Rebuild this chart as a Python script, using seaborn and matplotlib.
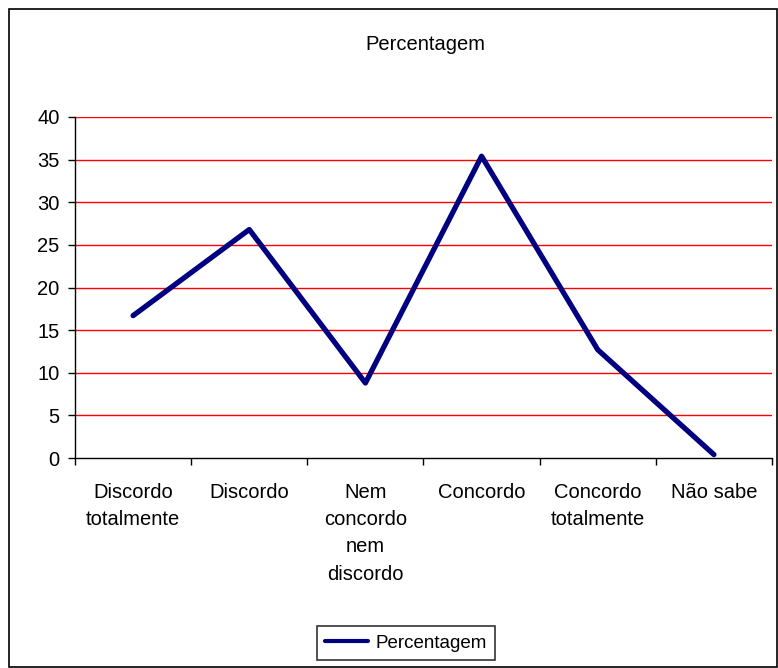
import matplotlib
matplotlib.use("Agg")
import numpy as np
import pandas as pd
from matplotlib import pyplot as plt
from matplotlib.patches import Rectangle
import seaborn as sns

categorias = ['Discordo\ntotalmente', 'Discordo', 'Nem\nconcordo\nnem\ndiscordo',
              'Concordo', 'Concordo\ntotalmente', 'Não sabe']
percentagem = [16.7, 26.8, 8.8, 35.4, 12.7, 0.4]
y_ticks = [0, 5, 10, 15, 20, 25, 30, 35, 40]

df = pd.DataFrame({'pos': np.arange(len(categorias)), 'Percentagem': percentagem})

sns.set_style('white')
plt.rcParams['font.family'] = ['Liberation Sans', 'DejaVu Sans']
plt.rcParams['text.color'] = 'black'
plt.rcParams['xtick.color'] = 'black'
plt.rcParams['ytick.color'] = 'black'

FS = 14.5

fig = plt.figure(figsize=(7.78, 6.68), dpi=100)
ax = fig.add_axes([75 / 778, 1 - 458 / 668, 697 / 778, 341 / 668])

sns.lineplot(data=df, x='pos', y='Percentagem', color='#000080', linewidth=3.8,
             label='Percentagem', ax=ax)

ax.set_xlim(-0.5, len(categorias) - 0.5)
ax.set_ylim(0, 40)
ax.set_yticks(y_ticks)
for y in y_ticks[1:]:
    ax.axhline(y, color='red', linewidth=1, zorder=0)

ax.set_xticks(np.arange(len(categorias)))
ax.set_xticklabels(categorias, fontsize=FS, va='top', linespacing=1.55)
ax.set_xticks(np.arange(-0.5, len(categorias)), minor=True)
ax.tick_params(axis='x', which='major', length=0, pad=18)
ax.tick_params(axis='x', which='minor', length=5, width=1, color='black', direction='out', bottom=True)
ax.tick_params(axis='y', length=5, width=1, color='black', direction='out', left=True,
               labelsize=FS, pad=6)
ax.set_xlabel('')
ax.set_ylabel('')

for side in ['top', 'right']:
    ax.spines[side].set_visible(False)
for side in ['left', 'bottom']:
    ax.spines[side].set_color('black')
    ax.spines[side].set_linewidth(1)

fig.text(425 / 778, 1 - 45 / 668, 'Percentagem', ha='center', va='center', fontsize=FS)

leg = ax.legend(loc='center', bbox_to_anchor=(406 / 778, 1 - 643 / 668),
                bbox_transform=fig.transFigure, frameon=True, fancybox=False,
                fontsize=13.5, handlelength=2.3, handletextpad=0.4, borderpad=0.45,
                borderaxespad=0, edgecolor='black')
leg.get_frame().set_linewidth(1.2)
leg.get_lines()[0].set_linewidth(3)

fig.patches.append(Rectangle((9 / 778, 1 / 668), 768 / 778, 658 / 668, transform=fig.transFigure,
                             fill=False, edgecolor='black', linewidth=1.2))

fig.savefig('out.png', dpi=100)
